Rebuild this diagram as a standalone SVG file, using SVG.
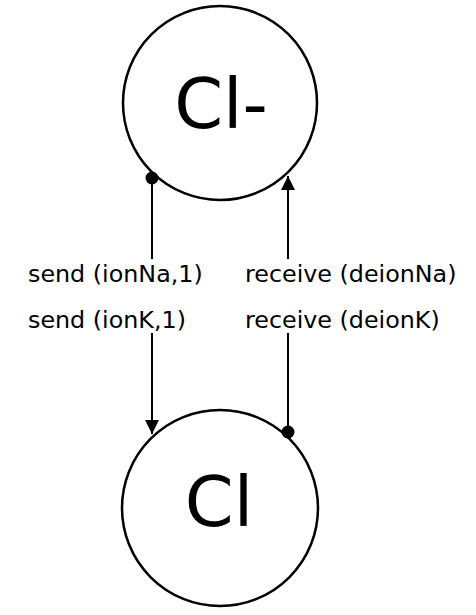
<svg xmlns="http://www.w3.org/2000/svg" width="476" height="615" viewBox="0 0 476 615">
<style>
.node{fill:#fff;stroke:#000;stroke-width:2.5}
.big{font-family:"DejaVu Sans",sans-serif;font-size:70px;fill:#000;text-anchor:middle}
.lbl{font-family:"DejaVu Sans",sans-serif;font-size:23.8px;fill:#000}
.edge{stroke:#000;stroke-width:2;fill:none}
</style>
<defs>
<marker id="arr" viewBox="0 0 14 18" refX="14" refY="9" markerWidth="14" markerHeight="18" markerUnits="userSpaceOnUse" orient="auto">
<path d="M0,2 L14,9 L0,16 Z" fill="#000"/>
</marker>
</defs>
<rect width="476" height="615" fill="#fff"/>
<g id="node-clminus">
<circle class="node" cx="220" cy="103" r="97"/>
<text class="big" x="221" y="128">Cl-</text>
</g>
<g id="node-cl">
<circle class="node" cx="220" cy="508" r="98"/>
<text class="big" x="219" y="526">Cl</text>
</g>
<g id="connectors">
<line class="edge" x1="152" y1="178" x2="152" y2="434" marker-end="url(#arr)"/>
<circle cx="152" cy="178" r="6.5" fill="#000"/>
<line class="edge" x1="288" y1="432" x2="288" y2="176" marker-end="url(#arr)"/>
<circle cx="288" cy="432" r="6.5" fill="#000"/>
</g>
<g id="labels">
<rect x="24" y="259" width="436" height="74" fill="#fff"/>
<text class="lbl" x="28" y="282">send (ionNa,1)</text>
<text class="lbl" x="28" y="328">send (ionK,1)</text>
<text class="lbl" x="245" y="282">receive (deionNa)</text>
<text class="lbl" x="245" y="328">receive (deionK)</text>
</g>
</svg>
